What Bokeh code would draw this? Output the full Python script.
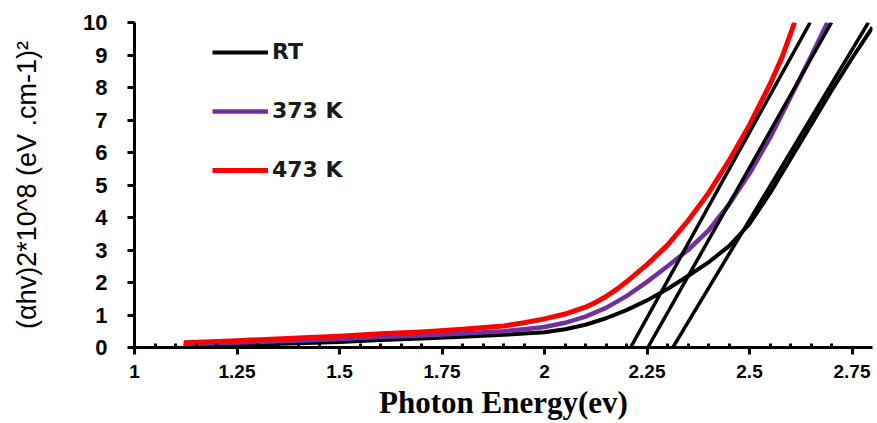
from bokeh.plotting import figure
from bokeh.models import Legend, LegendItem, ColumnDataSource, Range1d, FixedTicker
from bokeh.embed import file_html
from bokeh.resources import INLINE

# ---- data ----
energy_rt = [1.12, 1.25, 1.4, 1.5, 1.6, 1.7, 1.8, 1.9, 2.0, 2.05, 2.1, 2.15, 2.2, 2.25, 2.3,
             2.35, 2.4, 2.45, 2.5, 2.55, 2.6, 2.65, 2.7, 2.75, 2.8]
alpha_rt = [0.05, 0.08, 0.13, 0.17, 0.23, 0.28, 0.33, 0.39, 0.47, 0.56, 0.7, 0.9, 1.15, 1.45, 1.8,
            2.2, 2.62, 3.12, 3.8, 4.75, 5.8, 6.85, 7.9, 8.9, 9.85]

energy_373 = [1.12, 1.25, 1.4, 1.5, 1.6, 1.7, 1.8, 1.9, 1.95, 2.0, 2.05, 2.1, 2.15, 2.2, 2.25,
              2.3, 2.35, 2.4, 2.45, 2.5, 2.55, 2.6, 2.65, 2.69]
alpha_373 = [0.1, 0.15, 0.21, 0.26, 0.32, 0.37, 0.43, 0.5, 0.56, 0.63, 0.76, 0.95, 1.22, 1.58, 2.02,
             2.5, 3.0, 3.6, 4.4, 5.35, 6.45, 7.7, 8.95, 10.0]

energy_473 = [1.12, 1.25, 1.4, 1.5, 1.6, 1.7, 1.8, 1.9, 1.95, 2.0, 2.05, 2.1, 2.125, 2.15, 2.175,
              2.2, 2.25, 2.3, 2.35, 2.4, 2.45, 2.5, 2.55, 2.58, 2.61]
alpha_473 = [0.15, 0.21, 0.29, 0.35, 0.42, 0.48, 0.56, 0.66, 0.76, 0.88, 1.03, 1.24, 1.39, 1.57, 1.78,
             2.02, 2.55, 3.15, 3.9, 4.75, 5.75, 6.85, 8.1, 8.95, 10.0]

# tangent (extrapolation) lines: start on the energy axis, end at the top
tangent_x_start = [2.21, 2.252, 2.313]
tangent_y_start = [0, 0, 0]
tangent_x_end = [2.648, 2.70, 2.79]
tangent_y_end = [10, 10, 10]

x_tick_values = [1, 1.25, 1.5, 1.75, 2, 2.25, 2.5, 2.75]
x_tick_labels = ["1", "1.25", "1.5", "1.75", "2", "2.25", "2.5", "2.75"]
x_minor_values = [1 + 0.05 * i for i in range(1, 36) if i % 5 != 0]
y_tick_values = [0, 1, 2, 3, 4, 5, 6, 7, 8, 9, 10]

series_labels = ["RT", "373 K", "473 K"]
series_colors = ["#000000", "#7030A0", "#FF0000"]

# ---- figure ----
p = figure(width=877, height=423, x_range=Range1d(1, 2.8), y_range=Range1d(0, 10),
           output_backend="svg", toolbar_location=None,
           min_border_left=134, min_border_right=5, min_border_top=22, min_border_bottom=76)
p.outline_line_color = None
p.grid.visible = False
p.background_fill_color = "white"

r_rt = p.line(energy_rt, alpha_rt, line_color=series_colors[0], line_width=4, line_join="round")
r_373 = p.line(energy_373, alpha_373, line_color=series_colors[1], line_width=4.5, line_join="round")
r_473 = p.line(energy_473, alpha_473, line_color=series_colors[2], line_width=5, line_join="round")

tan_src = ColumnDataSource(dict(x0=tangent_x_start, y0=tangent_y_start,
                                x1=tangent_x_end, y1=tangent_y_end))
p.segment(x0="x0", y0="y0", x1="x1", y1="y1", source=tan_src, line_color="black", line_width=3.5)

legend = Legend(items=[LegendItem(label=series_labels[0], renderers=[r_rt]),
                       LegendItem(label=series_labels[1], renderers=[r_373]),
                       LegendItem(label=series_labels[2], renderers=[r_473])],
                location=(78, 165), orientation="vertical")
legend.border_line_color = None
legend.background_fill_alpha = 0
legend.padding = 0
legend.margin = 0
legend.spacing = 34
legend.glyph_width = 56
legend.glyph_height = 20
legend.label_height = 20
legend.label_standoff = 4
legend.label_text_font = "DejaVu Sans"
legend.label_text_font_style = "bold"
legend.label_text_font_size = "22px"
legend.label_text_color = "#1a1a1a"
p.add_layout(legend)

# ---- axes ----
xa = p.xaxis[0]
xa.ticker = FixedTicker(ticks=x_tick_values, minor_ticks=x_minor_values)
xa.major_label_overrides = {v: s for v, s in zip(x_tick_values, x_tick_labels)}
xa.axis_label = "Photon Energy(ev)"
xa.axis_label_text_font = "Liberation Serif"
xa.axis_label_text_font_style = "bold"
xa.axis_label_text_font_size = "31px"
xa.axis_label_standoff = 4
xa.major_label_standoff = 10

ya = p.yaxis[0]
ya.ticker = FixedTicker(ticks=y_tick_values, minor_ticks=[])
ya.axis_label = "(\u03b1hv)2*10^8 (eV .cm-1)\u00b2"
ya.axis_label_text_font = "Liberation Sans"
ya.axis_label_text_font_style = "normal"
ya.axis_label_text_font_size = "27px"
ya.axis_label_standoff = 38
ya.major_label_standoff = 20

for ax in (xa, ya):
    ax.axis_line_width = 3
    ax.axis_line_color = "black"
    ax.major_tick_line_width = 3
    ax.major_tick_line_color = "black"
    ax.major_tick_out = 7
    ax.major_tick_in = 0
    ax.minor_tick_line_width = 3
    ax.minor_tick_line_color = "black"
    ax.minor_tick_in = 4
    ax.minor_tick_out = 0
    ax.major_label_text_font = "Liberation Sans"
    ax.major_label_text_font_style = "bold"
    ax.major_label_text_color = "black"
    ax.axis_label_text_color = "black"
xa.major_label_text_font_size = "19px"
ya.major_label_text_font_size = "22px"

open("out.html", "w").write(file_html(p, INLINE))
